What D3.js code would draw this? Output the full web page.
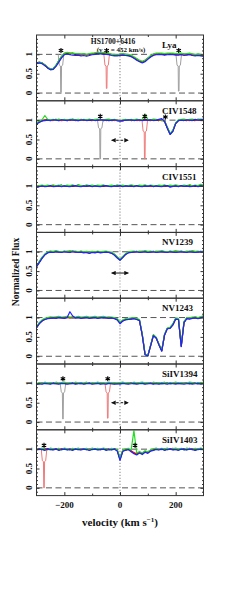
<!DOCTYPE html>
<html>
<head>
<meta charset="utf-8">
<script src="https://cdn.jsdelivr.net/npm/d3@7"></script>
<style>
body { margin: 0; background: #fff; }
text { font-family: "Liberation Serif", "DejaVu Serif", serif; fill: #111; font-weight: bold; }
</style>
</head>
<body>
<div id="chart"></div>
<script>
const velocity = [-300,-290,-280,-270,-260,-250,-240,-230,-220,-210,
  -200,-190,-180,-170,-160,-150,-140,-130,-120,-110,
  -100,-90,-80,-70,-60,-50,-40,-30,-20,-10,
  0,10,20,30,40,50,60,70,80,90,
  100,110,120,130,140,150,160,170,180,190,
  200,210,220,230,240,250,260,270,280,290,
  300];

const panelNames = ["Lya", "CIV1548", "CIV1551", "NV1239", "NV1243", "SiIV1394", "SiIV1403"];
const xMajor = [-200, 0, 200];
const xMinor = [-100, 100];
const yLabels = [0, 0.5, 1];
const yMinor = [-0.1, 0.1, 0.2, 0.3, 0.4, 0.6, 0.7, 0.8, 0.9, 1.1, 1.2, 1.3, 1.4];

const lyaBlack = [0.76,0.79,0.78,0.71,0.65,0.61,0.63,0.71,0.83,0.94,
  1.02,1.03,1.01,1.03,1.00,1.01,0.99,1.01,0.99,1.00,
  1.02,1.02,1.04,1.04,1.02,1.03,1.00,0.99,0.97,0.99,
  0.98,1.01,0.99,0.97,0.96,0.91,0.88,0.82,0.81,0.83,
  0.90,0.94,1.00,1.01,1.01,1.02,0.99,1.01,1.01,1.02,
  1.00,0.99,1.01,1.00,0.99,1.01,0.98,0.99,0.98,0.99,
  0.97];
const lyaRed = [0.77,0.80,0.77,0.73,0.66,0.62,0.62,0.70,0.81,0.92,
  1.01,1.04,1.03,1.02,1.02,1.00,1.00,1.00,0.98,1.01,
  1.01,1.03,1.05,1.03,1.04,1.02,1.01,1.00,0.98,0.97,
  0.99,1.00,1.00,0.98,0.95,0.92,0.86,0.83,0.80,0.84,
  0.89,0.96,0.99,1.02,1.02,1.01,1.01,1.02,1.02,1.01,
  1.01,1.00,1.02,0.99,1.01,1.01,1.00,0.98,1.00,0.98,
  0.97];
const lyaGreen = [0.78,0.80,0.78,0.73,0.67,0.62,0.64,0.72,0.84,0.95,
  1.03,1.05,1.03,1.04,1.02,1.02,1.01,1.02,1.00,1.02,
  1.03,1.04,1.06,1.04,1.05,1.03,1.03,1.00,1.00,0.99,
  1.01,1.02,1.00,1.00,0.98,0.94,0.89,0.85,0.82,0.85,
  0.91,0.97,1.01,1.03,1.03,1.03,1.02,1.03,1.03,1.03,
  1.02,1.02,1.03,1.01,1.02,1.03,1.01,1.00,1.01,1.00,
  0.99];
const lyaBlue = [0.76,0.78,0.76,0.71,0.65,0.60,0.61,0.69,0.80,0.91,
  0.99,1.01,0.99,0.98,0.97,0.98,0.96,0.97,0.95,0.97,
  0.99,1.00,1.01,1.01,1.00,1.00,0.99,0.97,0.96,0.96,
  0.97,0.98,0.97,0.96,0.94,0.90,0.85,0.81,0.78,0.81,
  0.87,0.93,0.97,0.99,1.00,0.99,0.98,0.99,1.00,0.99,
  0.98,0.98,0.99,0.97,0.98,0.99,0.97,0.96,0.97,0.96,
  0.95];

const civ48Black = [0.91,0.95,0.99,1.00,1.01,0.99,1.00,1.02,0.99,1.00,
  1.01,0.99,1.00,1.02,0.99,1.00,1.01,0.99,1.01,1.00,
  0.99,1.01,1.00,1.02,0.99,1.00,1.01,0.99,1.00,0.99,
  0.98,0.99,1.00,1.01,0.99,1.00,1.01,0.99,1.00,1.02,
  1.00,0.99,1.01,1.00,0.99,1.01,0.97,0.80,0.64,0.72,
  0.92,0.99,1.01,1.00,0.99,1.01,1.00,0.99,1.02,1.00,
  1.01];
const civ48Red = [0.92,0.96,0.98,1.01,1.00,1.00,0.99,1.01,1.00,0.99,
  1.00,1.01,0.99,1.01,1.00,0.99,1.02,1.00,1.00,1.01,
  1.00,1.00,1.01,1.00,1.01,0.99,1.00,1.01,0.99,1.00,
  0.99,0.98,1.01,1.00,1.00,1.01,0.99,1.00,1.01,1.00,
  1.01,1.00,1.00,1.01,1.00,0.99,0.98,0.81,0.65,0.73,
  0.91,1.00,1.00,1.01,1.00,0.99,1.01,1.00,1.00,1.01,
  1.00];
const civ48Green = [0.93,0.97,1.01,1.12,1.02,1.01,1.02,1.00,1.03,1.01,
  1.02,1.00,1.02,1.03,1.01,1.02,1.00,1.02,1.01,1.03,
  1.01,1.02,1.03,1.01,1.00,1.02,1.03,1.01,1.02,1.00,
  0.99,1.01,1.02,1.00,1.02,1.01,1.03,1.01,1.02,1.15,
  1.02,1.01,1.03,1.02,1.01,1.00,0.98,0.82,0.66,0.74,
  0.93,1.01,1.02,1.03,1.01,1.02,1.03,1.01,1.02,1.03,
  1.02];
const civ48Blue = [0.90,0.94,0.98,0.99,1.00,0.99,1.01,1.00,0.99,1.01,
  1.00,0.99,1.01,1.00,1.00,0.99,1.00,1.01,0.99,1.00,
  1.01,0.99,1.00,1.01,1.00,1.00,0.99,1.00,1.01,0.99,
  0.98,0.99,1.00,1.00,1.01,0.99,1.00,1.01,0.99,1.00,
  1.00,1.01,0.99,1.00,1.02,1.04,0.97,0.79,0.63,0.71,
  0.91,0.99,1.00,0.99,1.01,1.00,0.99,1.02,1.00,1.01,
  1.02];

const civ51Black = [0.97,0.99,1.00,0.99,1.01,1.00,0.99,1.01,1.00,1.02,
  0.99,1.00,1.01,0.99,1.00,1.02,1.00,0.99,1.01,1.00,
  0.99,1.01,1.00,1.00,0.99,1.01,1.00,0.99,1.00,1.01,
  1.00,0.99,1.01,1.00,0.99,1.00,1.01,0.99,1.00,1.01,
  0.99,1.00,1.01,1.00,0.99,1.01,1.00,0.99,1.01,1.00,
  1.00,0.99,1.01,1.00,0.99,1.02,1.00,0.99,1.01,1.00,
  1.00];
const civ51Red = [0.98,1.00,0.99,1.01,1.00,0.99,1.01,1.00,0.99,1.00,
  1.01,0.99,1.00,1.01,0.99,1.00,1.01,1.00,0.99,1.01,
  1.00,1.00,0.99,1.01,1.00,0.99,1.01,1.00,0.99,1.00,
  1.01,1.00,0.99,1.01,1.00,0.99,1.00,1.01,0.99,1.00,
  1.01,0.99,1.00,1.01,1.00,0.99,1.01,1.00,0.99,1.00,
  1.01,1.00,0.99,1.01,1.00,0.99,1.00,1.01,0.99,1.00,
  1.01];
const civ51Green = [0.98,1.01,1.02,1.00,1.02,1.01,1.03,1.00,1.02,1.01,
  1.00,1.02,1.01,1.03,1.00,1.02,1.01,1.00,1.03,1.01,
  1.02,1.00,1.02,1.01,1.03,1.00,1.01,1.02,1.00,1.03,
  1.01,1.02,1.00,1.01,1.03,1.01,1.00,1.02,1.01,1.03,
  1.00,1.02,1.01,1.00,1.02,1.01,1.03,1.00,1.02,1.01,
  1.03,1.01,1.00,1.02,1.01,1.03,1.00,1.02,1.01,1.04,
  1.02];
const civ51Blue = [0.96,0.98,1.00,0.98,0.99,1.01,0.98,0.99,1.00,0.98,
  1.00,0.99,0.98,1.00,1.01,0.99,0.98,1.00,0.99,1.01,
  0.98,1.00,0.99,0.98,1.00,1.01,0.99,0.98,1.00,0.99,
  1.01,0.98,1.00,0.99,1.00,0.98,1.01,0.99,0.98,1.00,
  0.99,1.01,0.98,1.00,0.99,0.98,1.00,1.01,0.97,0.99,
  1.00,0.98,1.01,0.99,1.00,0.98,0.99,1.01,0.98,1.00,
  0.99];

const nv39Black = [0.62,0.73,0.84,0.93,0.98,1.00,0.99,1.01,1.00,0.99,
  1.01,1.00,0.99,1.02,1.00,0.99,1.00,0.98,0.99,0.97,
  0.99,0.98,1.00,0.98,0.99,1.00,0.99,0.97,0.93,0.86,
  0.79,0.86,0.94,0.98,0.99,1.00,1.01,0.99,1.00,1.01,
  0.99,1.00,1.01,0.99,1.00,1.01,1.00,0.99,1.01,1.00,
  0.99,1.00,1.01,1.00,0.99,1.01,1.00,0.99,1.00,1.01,
  1.00];
const nv39Red = [0.63,0.74,0.85,0.92,0.99,1.01,1.00,1.00,0.99,1.00,
  1.00,1.01,1.00,1.00,0.99,1.00,1.01,0.99,0.98,0.98,
  1.00,0.99,0.99,0.99,1.00,0.99,0.98,0.98,0.92,0.85,
  0.80,0.87,0.93,0.99,1.00,0.99,1.00,1.00,1.01,1.00,
  1.00,0.99,1.00,1.00,1.01,1.00,0.99,1.00,1.00,0.99,
  1.00,1.01,1.00,0.99,1.00,1.00,1.01,1.00,0.99,1.00,
  1.01];
const nv39Green = [0.63,0.75,0.86,0.94,1.00,1.02,1.01,1.03,1.01,1.00,
  1.02,1.01,1.03,1.01,1.02,1.00,1.02,1.00,1.01,0.99,
  1.01,1.00,1.02,1.00,1.01,1.02,1.00,0.99,0.94,0.87,
  0.81,0.88,0.95,1.00,1.01,1.02,1.00,1.02,1.01,1.03,
  1.01,1.02,1.00,1.02,1.01,1.03,1.01,1.00,1.02,1.01,
  1.03,1.01,1.02,1.00,1.02,1.01,1.03,1.01,1.02,1.00,
  1.02];
const nv39Blue = [0.61,0.72,0.83,0.92,0.97,0.99,0.98,1.00,0.99,0.98,
  1.00,0.99,0.98,1.00,0.99,0.98,0.99,0.97,0.98,0.96,
  0.98,0.97,0.99,0.97,0.98,0.99,0.98,0.96,0.91,0.84,
  0.78,0.85,0.93,0.97,0.98,0.99,1.00,0.98,0.99,1.00,
  0.98,0.99,1.00,0.98,0.99,1.00,0.99,0.98,1.00,0.99,
  0.98,0.99,1.00,0.99,0.98,1.00,0.99,0.98,0.99,1.00,
  0.99];

const nv43Black = [0.74,0.85,0.92,0.96,0.98,0.99,1.00,0.99,1.01,1.00,
  0.99,1.01,1.00,0.99,1.00,1.01,0.99,1.00,1.01,0.99,
  1.00,1.01,0.99,1.00,1.01,1.00,0.99,1.00,0.98,0.95,
  0.86,0.92,0.95,0.96,0.97,0.98,0.96,0.93,0.55,0.05,
  0.01,0.28,0.54,0.48,0.30,0.14,0.55,0.72,0.73,0.82,
  0.97,0.96,0.26,0.88,0.98,0.97,0.99,1.00,0.98,1.00,
  1.02];
const nv43Red = [0.75,0.86,0.91,0.97,0.99,1.00,0.99,1.00,1.00,0.99,
  1.00,1.00,0.99,1.01,0.99,1.00,1.00,0.99,1.00,1.00,
  0.99,1.00,1.00,1.01,0.99,0.99,1.00,0.99,0.99,0.94,
  0.87,0.91,0.96,0.97,0.96,0.99,0.97,0.92,0.56,0.06,
  0.02,0.27,0.55,0.47,0.31,0.15,0.56,0.71,0.74,0.81,
  0.96,0.97,0.27,0.87,0.99,0.98,0.98,1.01,0.99,1.01,
  1.03];
const nv43Green = [0.76,0.87,0.94,0.98,1.00,1.02,1.01,1.02,1.03,1.01,
  1.02,1.03,1.01,1.02,1.01,1.03,1.01,1.02,1.03,1.01,
  1.02,1.03,1.01,1.02,1.03,1.01,1.02,1.01,1.00,0.97,
  0.88,0.94,0.97,0.98,0.99,1.00,0.98,0.95,0.57,0.06,
  0.02,0.29,0.56,0.49,0.31,0.16,0.57,0.73,0.75,0.84,
  0.99,0.98,0.28,0.90,1.00,0.99,1.01,1.02,1.00,1.02,
  1.05];
const nv43Blue = [0.73,0.84,0.91,0.95,0.97,0.98,0.99,0.98,1.00,0.99,
  0.98,1.00,1.15,1.04,0.99,1.00,0.98,0.99,1.00,0.98,
  0.99,1.00,0.98,0.99,1.00,0.99,0.98,0.99,0.97,0.94,
  0.84,0.91,0.94,0.95,0.96,0.97,0.95,0.92,0.54,0.04,
  0.01,0.27,0.53,0.47,0.29,0.13,0.54,0.71,0.72,0.81,
  0.96,0.95,0.25,0.87,0.97,0.96,0.98,0.99,0.97,0.99,
  1.01];

const siiv94Black = [0.98,1.00,0.99,1.01,1.00,0.99,1.01,1.00,0.99,1.01,
  1.00,0.99,1.00,1.01,0.99,1.00,1.01,0.99,1.00,1.01,
  0.99,1.00,1.01,0.99,1.00,1.00,1.01,0.99,1.00,0.99,
  1.00,1.01,0.99,1.00,1.01,0.99,1.00,1.01,1.00,0.99,
  1.01,1.00,0.99,1.01,1.00,0.99,1.00,1.01,0.99,1.00,
  1.01,1.00,0.99,1.00,1.01,0.99,1.00,1.01,0.99,1.00,
  1.01];
const siiv94Red = [0.99,1.00,1.01,1.00,0.99,1.01,1.00,0.99,1.00,1.00,
  1.01,1.00,0.99,1.00,1.01,1.00,0.99,1.00,1.01,1.00,
  1.00,0.99,1.00,1.01,1.00,0.99,1.00,1.01,0.99,1.00,
  1.01,1.00,1.00,0.99,1.01,1.00,0.99,1.00,1.01,1.00,
  0.99,1.01,1.00,1.00,0.99,1.01,1.00,0.99,1.01,1.00,
  1.00,0.99,1.01,1.00,1.00,0.99,1.01,1.00,0.99,1.02,
  1.00];
const siiv94Green = [0.99,1.02,1.00,1.03,1.01,1.02,1.00,1.03,1.01,1.02,
  1.03,1.01,1.02,1.00,1.03,1.01,1.02,1.01,1.03,1.00,
  1.02,1.01,1.03,1.01,1.02,1.00,1.03,1.01,1.02,1.01,
  1.02,1.03,1.01,1.02,1.00,1.03,1.01,1.02,1.03,1.01,
  1.02,1.00,1.03,1.01,1.02,1.01,1.03,1.00,1.02,1.01,
  1.03,1.01,1.02,1.00,1.01,1.03,1.02,1.00,1.02,1.01,
  1.03];
const siiv94Blue = [0.97,0.99,0.98,1.00,0.99,0.98,1.00,0.99,0.98,1.00,
  0.99,0.98,0.99,1.00,0.98,0.99,1.00,0.98,0.99,1.00,
  0.98,0.99,1.00,0.98,0.99,0.98,1.00,0.99,0.98,0.99,
  0.98,1.00,0.99,0.98,0.99,1.00,0.98,0.99,1.00,0.98,
  0.99,1.00,0.98,0.99,0.98,1.00,0.99,0.98,1.00,0.99,
  0.98,1.00,0.99,0.98,0.99,1.00,0.98,0.99,1.00,0.98,
  0.99];

const siiv03Black = [0.99,1.01,1.00,0.98,1.01,1.00,0.99,1.01,0.98,1.00,
  1.01,0.99,1.00,0.98,1.01,1.00,0.99,1.01,1.00,0.98,
  1.00,1.01,0.99,1.00,1.01,0.98,1.00,0.99,1.01,0.97,
  0.74,0.96,0.98,1.00,0.95,0.90,0.87,0.92,0.88,0.94,
  0.91,0.96,0.98,1.00,0.99,1.01,0.98,1.00,1.01,0.99,
  1.00,0.98,1.01,1.00,0.99,1.01,1.00,0.98,1.00,1.01,
  1.00];
const siiv03Red = [1.00,1.00,0.99,1.02,1.00,0.99,1.01,1.00,0.99,1.01,
  1.00,1.00,0.99,1.01,1.00,0.99,1.01,1.00,0.99,1.00,
  1.01,1.00,1.00,0.99,1.00,1.01,0.99,1.00,1.00,0.98,
  0.75,0.97,0.99,0.99,0.96,0.91,0.88,0.91,0.89,0.93,
  0.92,0.97,0.99,1.01,1.00,0.99,1.01,0.99,1.00,1.02,
  0.99,1.00,1.01,0.99,1.00,1.02,0.99,1.00,1.01,0.99,
  1.01];
const siiv03Green = [1.01,0.99,1.03,1.00,0.98,1.03,1.01,0.99,1.02,0.98,
  1.03,1.01,0.98,1.02,1.00,1.03,0.99,1.01,1.02,0.98,
  1.03,1.00,1.02,0.99,1.03,1.01,0.98,1.02,1.00,0.99,
  0.77,0.98,1.01,1.02,0.98,1.48,0.90,0.94,0.90,0.96,
  0.93,0.98,1.01,1.03,0.99,1.02,1.00,1.03,0.99,1.01,
  1.03,1.00,1.02,0.98,1.03,1.01,0.99,1.02,1.00,1.03,
  1.01];
const siiv03Blue = [0.98,1.00,0.99,0.97,1.00,0.99,0.98,1.00,0.97,0.99,
  1.00,0.98,0.99,0.97,1.00,0.99,0.98,1.00,0.99,0.97,
  0.99,1.00,0.98,0.99,1.00,0.97,0.99,0.98,1.00,0.95,
  0.71,0.94,0.97,0.99,0.93,0.88,0.85,0.90,0.86,0.92,
  0.89,0.95,0.97,0.99,0.98,1.00,0.97,0.99,1.00,0.98,
  0.99,0.97,1.00,0.99,0.98,1.00,0.99,0.97,0.99,1.00,
  0.99];

// blended lines from other redshifts: [velocity, flux]
const lyaBlendA = [[-222,1.0],[-218,0.72],[-214,0.70],[-213,0.02],[-211,0.02],[-210,0.70],[-206,0.72],[-202,1.0]];
const lyaBlendB = [[-58,1.0],[-54,0.72],[-50,0.70],[-49,0.12],[-47,0.12],[-46,0.70],[-42,0.72],[-38,1.0]];
const lyaBlendC = [[201,1.0],[205,0.72],[209,0.70],[210,0.05],[212,0.05],[213,0.70],[217,0.72],[221,1.0]];
const civ48BlendA = [[-81,1.0],[-77,0.80],[-73,0.78],[-72,0.0],[-70,0.0],[-69,0.78],[-65,0.80],[-61,1.0]];
const civ48BlendB = [[79,1.0],[83,0.72],[87,0.70],[88,0.0],[90,0.0],[91,0.70],[95,0.72],[99,1.0]];
const siiv94BlendA = [[-215,1.0],[-211,0.78],[-207,0.75],[-206,0.08],[-204,0.08],[-203,0.75],[-199,0.78],[-195,1.0]];
const siiv94BlendB = [[-54,1.0],[-50,0.78],[-46,0.75],[-45,0.10],[-43,0.10],[-42,0.75],[-38,0.78],[-34,1.0]];
const siiv03BlendA = [[-283,1.0],[-279,0.70],[-275,0.68],[-274,0.0],[-272,0.0],[-271,0.68],[-267,0.70],[-263,1.0]];

// [panel, velocity, flux]
const starMarks = [[0,-212,1.1],[0,-48,1.1],[0,211,1.1],
  [1,-71,1.1],[1,89,1.1],[1,163,1.08],
  [5,-205,1.12],[5,-44,1.12],
  [6,-273,1.1],[6,54,1.1]];
// [panel, v1, v2, flux, dashed]
const arrowMarks = [[1,-30,30,0.48,true],[3,-30,30,0.45,false],[5,-30,30,0.5,true]];

const seriesColors = ["#000000", "#ee1111", "#22dd22", "#2222ff"];
const panels = [
  {name: panelNames[0], flux: [lyaBlack, lyaRed, lyaGreen, lyaBlue], blends: [["#a0a0a0", lyaBlendA], ["#f07a7a", lyaBlendB], ["#a0a0a0", lyaBlendC]]},
  {name: panelNames[1], flux: [civ48Black, civ48Red, civ48Green, civ48Blue], blends: [["#a0a0a0", civ48BlendA], ["#f07a7a", civ48BlendB]]},
  {name: panelNames[2], flux: [civ51Black, civ51Red, civ51Green, civ51Blue], blends: []},
  {name: panelNames[3], flux: [nv39Black, nv39Red, nv39Green, nv39Blue], blends: []},
  {name: panelNames[4], flux: [nv43Black, nv43Red, nv43Green, nv43Blue], blends: []},
  {name: panelNames[5], flux: [siiv94Black, siiv94Red, siiv94Green, siiv94Blue], blends: [["#a0a0a0", siiv94BlendA], ["#f07a7a", siiv94BlendB]]},
  {name: panelNames[6], flux: [siiv03Black, siiv03Red, siiv03Green, siiv03Blue], blends: [["#f07a7a", siiv03BlendA]]}
];

const svg = d3.select("#chart").append("svg")
    .attr("width", 240)
    .attr("height", 598)
    .style("background", "#fff");

const defs = svg.append("defs");
defs.append("marker")
    .attr("id", "head")
    .attr("viewBox", "0 0 10 10")
    .attr("refX", 9)
    .attr("refY", 5)
    .attr("markerWidth", 4.5)
    .attr("markerHeight", 4.5)
    .attr("orient", "auto-start-reverse")
    .append("path")
    .attr("d", "M0,0L10,5L0,10z")
    .attr("fill", "#111");

const x = d3.scaleLinear().domain([-300, 300]).range([36.5, 203.5]);
const firstTop = 35;
const panelH = 65.8;

panels.forEach((p, i) => {
    const top = firstTop + i * panelH;
    const bottom = top + panelH;
    const y = d3.scaleLinear().domain([-0.2, 1.5]).range([bottom, top]);
    const line = d3.line().x(d => x(d[0])).y(d => y(d[1]));
    const g = svg.append("g");

    defs.append("clipPath").attr("id", `clip${i}`)
        .append("rect")
        .attr("x", x.range()[0]).attr("y", top)
        .attr("width", x.range()[1] - x.range()[0]).attr("height", panelH);

    [0, 1].forEach(level => {
        g.append("line")
         .attr("x1", x.range()[0]).attr("x2", x.range()[1])
         .attr("y1", y(level)).attr("y2", y(level))
         .attr("stroke", "#555")
         .attr("stroke-dasharray", "6,3.5");
    });

    g.append("line")
     .attr("x1", x(0)).attr("x2", x(0))
     .attr("y1", top).attr("y2", bottom)
     .attr("stroke", "#999")
     .attr("stroke-width", 1.2)
     .attr("stroke-dasharray", "1.2,1.8");

    if (i === 0) {
        g.append("text")
         .attr("x", 113).attr("y", 44)
         .attr("text-anchor", "middle")
         .attr("font-size", 7.5)
         .text("HS1700+6416");
        const t = g.append("text")
         .attr("x", 121).attr("y", 52)
         .attr("text-anchor", "middle")
         .attr("font-size", 7);
        t.append("tspan").text("(v");
        t.append("tspan").attr("font-size", 5).attr("dy", 1.5).text("sys");
        t.append("tspan").attr("dy", -1.5).text(" = 452 km/s)");
    }

    g.append("text")
     .attr("x", 162).attr("y", top + 13)
     .attr("font-size", 9)
     .text(p.name);

    const data = g.append("g").attr("clip-path", `url(#clip${i})`);

    p.blends.forEach(b => {
        data.append("path")
            .attr("d", line(b[1]))
            .attr("fill", "none")
            .attr("stroke", b[0])
            .attr("stroke-width", 1);
    });

    p.flux.forEach((f, k) => {
        data.append("path")
            .attr("d", line(d3.zip(velocity, f)))
            .attr("fill", "none")
            .attr("stroke", seriesColors[k])
            .attr("stroke-width", 1.2)
            .attr("stroke-linejoin", "round");
    });

    starMarks.filter(s => s[0] === i).forEach(s => {
        g.append("path")
         .attr("d", d3.symbol(d3.symbolAsterisk, 18)())
         .attr("transform", `translate(${x(s[1])},${y(s[2])})`)
         .attr("stroke", "#000")
         .attr("stroke-width", 1.1);
    });

    arrowMarks.filter(a => a[0] === i).forEach(a => {
        g.append("line")
         .attr("x1", x(a[1])).attr("x2", x(a[2]))
         .attr("y1", y(a[3])).attr("y2", y(a[3]))
         .attr("stroke", "#111")
         .attr("stroke-dasharray", a[4] ? "2.5,2" : null)
         .attr("marker-start", "url(#head)")
         .attr("marker-end", "url(#head)");
    });

    g.append("rect")
     .attr("x", x.range()[0]).attr("y", top)
     .attr("width", x.range()[1] - x.range()[0]).attr("height", panelH)
     .attr("fill", "none")
     .attr("stroke", "#333");

    let axes = [
        [d3.axisBottom(x).tickValues(xMajor).tickSize(-3.5), `translate(0,${bottom})`],
        [d3.axisBottom(x).tickValues(xMinor).tickSize(-2), `translate(0,${bottom})`],
        [d3.axisTop(x).tickValues(xMajor).tickSize(-3.5), `translate(0,${top})`],
        [d3.axisTop(x).tickValues(xMinor).tickSize(-2), `translate(0,${top})`],
        [d3.axisLeft(y).tickValues(yLabels).tickSize(-3), `translate(${x.range()[0]},0)`],
        [d3.axisLeft(y).tickValues(yMinor).tickSize(-1.5), `translate(${x.range()[0]},0)`],
        [d3.axisRight(y).tickValues(yLabels).tickSize(-3), `translate(${x.range()[1]},0)`],
        [d3.axisRight(y).tickValues(yMinor).tickSize(-1.5), `translate(${x.range()[1]},0)`]
    ];
    axes.forEach(a => {
        g.append("g")
         .attr("transform", a[1])
         .call(a[0].tickFormat(""))
         .call(s => s.select(".domain").remove())
         .selectAll("line").attr("stroke", "#333");
    });

    yLabels.forEach(v => {
        g.append("text")
         .attr("transform", `translate(31.5,${y(v)}) rotate(-90)`)
         .attr("text-anchor", "middle")
         .attr("font-size", 9)
         .text(v);
    });

    if (i === panels.length - 1) {
        xMajor.forEach(v => {
            g.append("text")
             .attr("x", x(v)).attr("y", bottom + 12)
             .attr("text-anchor", "middle")
             .attr("font-size", 9)
             .text(v < 0 ? "\u2212" + Math.abs(v) : v);
        });
    }
});

const xTitle = svg.append("text")
    .attr("x", 120).attr("y", 526)
    .attr("text-anchor", "middle")
    .attr("font-size", 11);
xTitle.append("tspan").text("velocity (km s");
xTitle.append("tspan").attr("font-size", 7).attr("dy", -4).text("\u22121");
xTitle.append("tspan").attr("dy", 4).text(")");

svg.append("text")
    .attr("transform", "translate(18.5,272) rotate(-90)")
    .attr("text-anchor", "middle")
    .attr("font-size", 9.5)
    .text("Normalized Flux");
</script>
</body>
</html>
